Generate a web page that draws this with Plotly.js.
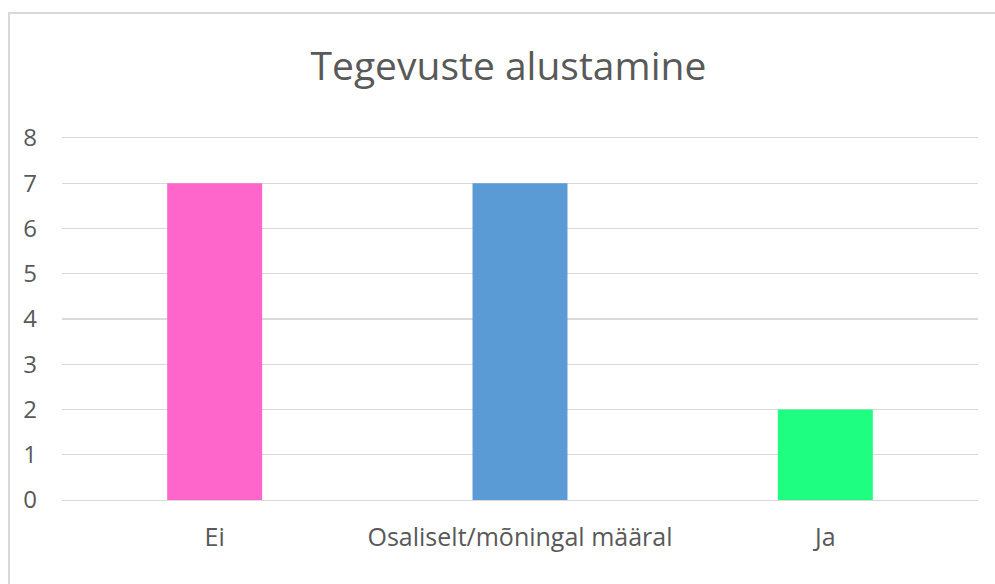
<!DOCTYPE html>
<html><head><meta charset="utf-8">
<script src="https://cdn.plot.ly/plotly-3.0.1.min.js"></script>
<style>
html,body{margin:0;padding:0;background:#fff;overflow:hidden}
#chart{width:995px;height:584px}
#frame{position:absolute;left:8px;top:12px;width:1100px;height:700px;border:2px solid #D9D9D9;pointer-events:none;box-sizing:border-box}
</style></head>
<body>
<div id="chart"></div>
<div id="frame"></div>
<script>
const categories = ["Ei", "Osaliselt/mõningal määral", "Ja"];
const values = [7, 7, 2];
const barColors = ["#FF66CC", "#5B9BD5", "#1EFF82"];
const chartTitle = "Tegevuste alustamine";
const yTicks = [0, 1, 2, 3, 4, 5, 6, 7, 8];

const font = "'Open Sans', sans-serif";
Plotly.newPlot("chart", [{
  type: "bar",
  x: categories,
  y: values,
  marker: {color: barColors, line: {width: 0}},
  hoverinfo: "x+y"
}], {
  width: 995, height: 584,
  margin: {l: 62, r: 17, t: 137.5, b: 84},
  paper_bgcolor: "#fff", plot_bgcolor: "#fff",
  bargap: 0.689,
  showlegend: false,
  title: {text: chartTitle, font: {family: font, size: 39, color: "#595959"}, x: 0.511, xanchor: "center", y: 0.887, yanchor: "middle"},
  xaxis: {showgrid: false, zeroline: false, showline: true, mirror: true, linecolor: "#D9D9D9", linewidth: 1.3, ticks: "", tickfont: {family: font, size: 25, color: "#595959"}, ticklabelstandoff: 15},
  yaxis: {range: [0, 8], tickvals: yTicks, showgrid: true, gridcolor: "#D9D9D9", gridwidth: 1.3, zeroline: false, showline: false, ticks: "", tickfont: {family: font, size: 24, color: "#595959"}, ticklabelstandoff: 24}
}, {displayModeBar: false, staticPlot: true});
</script>
</body></html>
